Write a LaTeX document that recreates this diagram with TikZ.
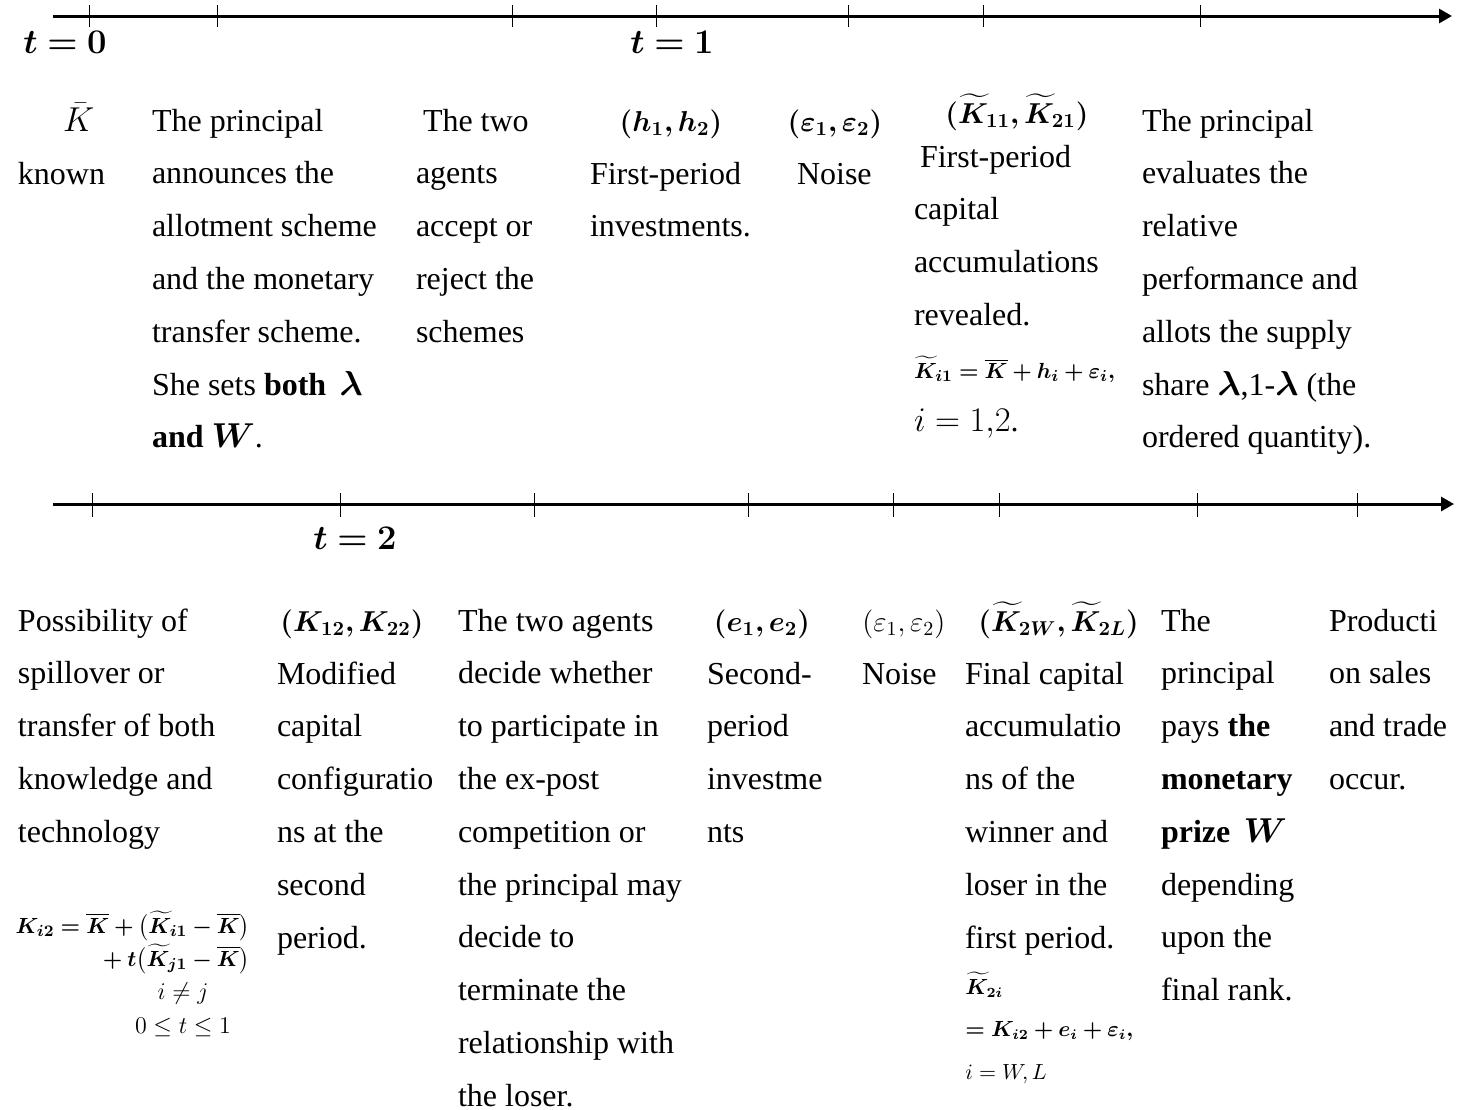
\documentclass[tikz,border=0pt]{standalone}
\usepackage{amsmath}
\usepackage{bm}
\usepackage{fontspec}
\setmainfont{Liberation Serif}
\usetikzlibrary{arrows.meta}
\newcommand{\colL}[1]{\vtop{\let\\\cr\halign{##\hfil\cr#1\crcr}}}
\newcommand{\colR}[1]{\vtop{\let\\\cr\halign{\hfil##\cr#1\crcr}}}
\newcommand{\colC}[1]{\vtop{\let\\\cr\halign{\hfil##\hfil\cr#1\crcr}}}
\begin{document}
\begin{tikzpicture}[x=0.5pt,y=-0.5pt,
  axis/.style={line width=1.5pt,-{Triangle[length=6.5pt,width=7pt]}},
  tickmark/.style={line width=0.5pt},
  txt/.style={anchor=base west,inner sep=0pt,outer sep=0pt,font=\fontsize{16}{26.4}\selectfont},
  head/.style={anchor=base,inner sep=0pt,font=\fontsize{14}{18}\selectfont},
  headw/.style={anchor=base west,inner sep=0pt,font=\fontsize{14}{18}\selectfont},
  lab/.style={anchor=base,inner sep=0pt,font=\fontsize{16}{20}\selectfont},
  frmr/.style={anchor=base east,inner sep=0pt,font=\fontsize{11}{16.5}\selectfont},
  frmc/.style={anchor=base,inner sep=0pt,font=\fontsize{12}{17}\selectfont},
  frml/.style={anchor=base west,inner sep=0pt,font=\fontsize{10.5}{21.25}\selectfont}
]
\useasboundingbox (0,0) rectangle (1460,1109);

% ---------- top time line ----------
\coordinate (ta) at (53,16);
\coordinate (tb) at (1452,16);
\draw[axis] (ta) -- (tb);
\foreach \x in {89,217,512,656,848,983,1200}{\draw[tickmark] (\x,5) -- (\x,27);}
\node[lab] (t0) at (65,53) {$\bm{t=0}$};
\node[lab] (t1) at (672,53) {$\bm{t=1}$};

% ---------- top texts ----------
\node[txt] (kbar) at (63,131) {$\bar{K}$};
\node[txt] (known) at (18,184) {known};
\node[txt] (c2) at (152,131) {\colL{The principal\\announces the\\allotment scheme\\and the monetary\\transfer scheme.\\She sets \textbf{both} \,$\bm{\lambda}$\\\textbf{and} $\bm{W}$.}};
\node[txt] (c3) at (416,131) {\colL{\hspace{3.5pt}The two\\agents\\accept or\\reject the\\schemes}};
\node[head] (c4h) at (671,131) {$\bm{(h_1, h_2)}$};
\node[txt] (c4) at (590,184) {\colL{First-period\\investments.}};
\node[head] (c5h) at (835,131) {$\bm{(\varepsilon_1, \varepsilon_2)}$};
\node[txt] (c5) at (797,184) {Noise};
\node[head] (c6h) at (1017,123) {$\bm{(\widetilde{K}_{11}, \widetilde{K}_{21})}$};
\node[txt] (c6) at (914,167) {\colL{\hspace{3pt}First-period\\capital\\accumulations\\revealed.\\{\fontsize{11}{14}\selectfont$\bm{\widetilde{K}_{i1}=\overline{K}+h_i+\varepsilon_i,}$}\\$i=1{,}2$.}};
\node[txt] (c7) at (1142,131) {\colL{The principal\\evaluates the\\relative\\performance and\\allots the supply\\share $\bm{\lambda}$,1-$\bm{\lambda}$ (the\\ordered quantity).}};

% ---------- bottom time line ----------
\coordinate (ba) at (53,504);
\coordinate (bb) at (1454,504);
\draw[axis] (ba) -- (bb);
\foreach \x in {92,340,534,748,893,999,1197,1357}{\draw[tickmark] (\x,493) -- (\x,517);}
\node[lab] (t2) at (355,549) {$\bm{t=2}$};

% ---------- bottom texts ----------
\node[txt] (cA) at (18,631) {\colL{Possibility of\\spillover or\\transfer of both\\knowledge and\\technology}};
\node[frmr] (fA) at (250,933) {\colR{$\bm{K_{i2}=\overline{K}+\bigl(\widetilde{K}_{i1}-\overline{K}\bigr)}$\\$\bm{{}+t\bigl(\widetilde{K}_{j1}-\overline{K}\bigr)}$}};
\node[frmc] (fA2) at (183,999) {\colC{$i\neq j$\\$0\leq t\leq 1$}};
\node[head] (cBh) at (352,631) {$\bm{(K_{12}, K_{22})}$};
\node[txt] (cB) at (277,684) {\colL{Modified\\capital\\configuratio\\ns at the\\second\\period.}};
\node[txt] (cC) at (458,631) {\colL{The two agents\\decide whether\\to participate in\\the ex-post\\competition or\\the principal may\\decide to\\terminate the\\relationship with\\the loser.}};
\node[head] (cDh) at (762,631) {$\bm{(e_1, e_2)}$};
\node[txt] (cD) at (707,684) {\colL{Second-\\period\\investme\\nts}};
\node[headw] (cEh) at (862,631) {$(\varepsilon_1, \varepsilon_2)$};
\node[txt] (cE) at (862,684) {Noise};
\node[headw] (cFh) at (978,631) {$\bm{(\widetilde{K}_{2W}, \widetilde{K}_{2L})}$};
\node[txt] (cF) at (965,684) {\colL{Final capital\\accumulatio\\ns of the\\winner and\\loser in the\\first period.}};
\node[frml] (fF) at (965,994) {\colL{$\bm{\widetilde{K}_{2i}}$\\$\bm{=K_{i2}+e_i+\varepsilon_i,}$\\$i=W,L$}};
\node[txt] (cG) at (1161,631) {\colL{The\\principal\\pays \textbf{the}\\\textbf{monetary}\\\textbf{prize} \,$\bm{W}$\\depending\\upon the\\final rank.}};
\node[txt] (cH) at (1329,631) {\colL{Producti\\on sales\\and trade\\occur.}};
\end{tikzpicture}
\end{document}
